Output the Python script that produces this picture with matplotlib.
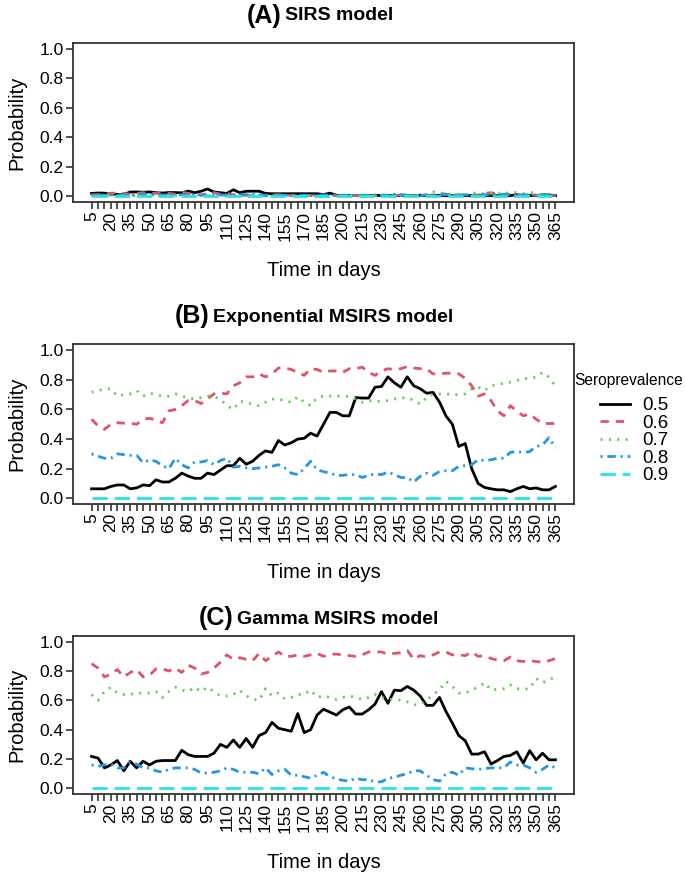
import matplotlib
matplotlib.use("Agg")
import matplotlib.pyplot as plt

plt.rcParams['font.family'] = ['Liberation Sans', 'DejaVu Sans']
plt.rcParams['lines.scale_dashes'] = False

# days 5..365, step 5
days = list(range(5, 366, 5))
tick_labels = [str(d) if (d - 5) % 15 == 0 else '' for d in days]
sero_labels = ['0.5', '0.6', '0.7', '0.8', '0.9']

# (A) SIRS model
a_05 = [0.02, 0.023, 0.022, 0.015, 0.014, 0.012, 0.03, 0.03, 0.028, 0.03,
        0.025, 0.023, 0.026, 0.026, 0.024, 0.036, 0.025, 0.035, 0.05, 0.03,
        0.025, 0.02, 0.045, 0.025, 0.035, 0.035, 0.035, 0.02, 0.018, 0.018,
        0.018, 0.018, 0.018, 0.018, 0.018, 0.018, 0.012, 0.022, 0.008, 0.006,
        0.006, 0.005, 0.005, 0.005, 0.008, 0.005, 0.005, 0.005, 0.005, 0.005,
        0.005, 0.008, 0.005, 0.005, 0.006, 0.005, 0.005, 0.005, 0.005, 0.005,
        0.005, 0.005, 0.005, 0.005, 0.005, 0.005, 0.012, 0.005, 0.005, 0.005,
        0.01, 0.01, 0.005]
a_06 = [0.01, 0.012, 0.015, 0.02, 0.025, 0.02, 0.015, 0.02, 0.025, 0.02,
        0.02, 0.025, 0.02, 0.015, 0.028, 0.02, 0.015, 0.01, 0.02, 0.025,
        0.015, 0.02, 0.01, 0.01, 0.008, 0.008, 0.008, 0.006, 0.008, 0.012,
        0.006, 0.006, 0.005, 0.005, 0.005, 0.005, 0.005, 0.005, 0.005, 0.005,
        0.005, 0.005, 0.005, 0.005, 0.005, 0.005, 0.005, 0.005, 0.01, 0.005,
        0.005, 0.005, 0.005, 0.01, 0.02, 0.015, 0.01, 0.01, 0.01, 0.005,
        0.01, 0.02, 0.025, 0.015, 0.01, 0.015, 0.01, 0.008, 0.01, 0.008,
        0.005, 0.005, 0.005]
a_07 = [0.005, 0.005, 0.005, 0.005, 0.005, 0.005, 0.005, 0.005, 0.005, 0.005,
        0.005, 0.005, 0.005, 0.005, 0.008, 0.005, 0.005, 0.005, 0.005, 0.005,
        0.005, 0.005, 0.005, 0.005, 0.005, 0.005, 0.005, 0.005, 0.005, 0.005,
        0.005, 0.005, 0.005, 0.005, 0.005, 0.005, 0.005, 0.005, 0.005, 0.005,
        0.005, 0.005, 0.005, 0.005, 0.005, 0.005, 0.005, 0.005, 0.005, 0.005,
        0.005, 0.008, 0.015, 0.03, 0.02, 0.025, 0.01, 0.015, 0.01, 0.02,
        0.025, 0.015, 0.02, 0.025, 0.015, 0.03, 0.025, 0.02, 0.03, 0.015,
        0.01, 0.015, 0.01]
a_08 = [0.01, 0.01, 0.008, 0.01, 0.012, 0.01, 0.01, 0.008, 0.015, 0.01,
        0.01, 0.01, 0.01, 0.012, 0.01, 0.015, 0.01, 0.01, 0.008, 0.01,
        0.01, 0.01, 0.01, 0.01, 0.012, 0.015, 0.01, 0.008, 0.008, 0.008,
        0.008, 0.008, 0.008, 0.008, 0.008, 0.008, 0.01, 0.008, 0.008, 0.008,
        0.008, 0.008, 0.008, 0.008, 0.008, 0.008, 0.008, 0.015, 0.012, 0.008,
        0.008, 0.008, 0.008, 0.008, 0.01, 0.012, 0.01, 0.008, 0.01, 0.01,
        0.01, 0.012, 0.01, 0.01, 0.015, 0.01, 0.01, 0.01, 0.01, 0.008,
        0.008, 0.008, 0.008]
a_09 = [0.003] * 73

# (B) Exponential MSIRS model
b_05 = [0.064, 0.064, 0.064, 0.08, 0.09, 0.09, 0.064, 0.07, 0.09, 0.085,
        0.125, 0.11, 0.11, 0.135, 0.17, 0.15, 0.135, 0.135, 0.17, 0.16,
        0.19, 0.22, 0.22, 0.27, 0.23, 0.25, 0.29, 0.32, 0.31, 0.39,
        0.36, 0.375, 0.40, 0.405, 0.44, 0.42, 0.50, 0.58, 0.58, 0.557,
        0.557, 0.68, 0.677, 0.677, 0.75, 0.755, 0.82, 0.78, 0.75, 0.82,
        0.76, 0.74, 0.71, 0.715, 0.65, 0.557, 0.50, 0.35, 0.37, 0.20,
        0.10, 0.073, 0.064, 0.057, 0.057, 0.045, 0.064, 0.08, 0.064, 0.07,
        0.057, 0.057, 0.08]
b_06 = [0.534, 0.49, 0.466, 0.50, 0.51, 0.507, 0.507, 0.50, 0.534, 0.54,
        0.527, 0.51, 0.59, 0.60, 0.625, 0.66, 0.66, 0.64, 0.67, 0.705,
        0.71, 0.705, 0.76, 0.78, 0.82, 0.82, 0.84, 0.82, 0.84, 0.88,
        0.88, 0.87, 0.85, 0.83, 0.875, 0.87, 0.85, 0.86, 0.86, 0.85,
        0.875, 0.875, 0.886, 0.85, 0.83, 0.86, 0.875, 0.87, 0.875, 0.89,
        0.88, 0.875, 0.875, 0.84, 0.84, 0.845, 0.845, 0.84, 0.81, 0.76,
        0.69, 0.705, 0.66, 0.59, 0.557, 0.625, 0.59, 0.557, 0.57, 0.534,
        0.505, 0.505, 0.505]
b_07 = [0.716, 0.727, 0.739, 0.739, 0.69, 0.70, 0.705, 0.727, 0.69, 0.71,
        0.70, 0.69, 0.69, 0.705, 0.69, 0.68, 0.67, 0.68, 0.69, 0.686,
        0.67, 0.625, 0.60, 0.655, 0.648, 0.636, 0.625, 0.648, 0.67, 0.67,
        0.66, 0.648, 0.686, 0.648, 0.625, 0.68, 0.69, 0.69, 0.69, 0.69,
        0.686, 0.67, 0.648, 0.66, 0.655, 0.655, 0.66, 0.67, 0.68, 0.677,
        0.664, 0.636, 0.68, 0.705, 0.705, 0.705, 0.70, 0.70, 0.705, 0.74,
        0.75, 0.727, 0.76, 0.768, 0.777, 0.784, 0.795, 0.807, 0.81, 0.818,
        0.85, 0.818, 0.755]
b_08 = [0.30, 0.284, 0.27, 0.27, 0.30, 0.295, 0.29, 0.29, 0.24, 0.26,
        0.25, 0.22, 0.20, 0.27, 0.227, 0.205, 0.245, 0.245, 0.255, 0.227,
        0.255, 0.27, 0.21, 0.216, 0.205, 0.20, 0.205, 0.21, 0.216, 0.227,
        0.205, 0.17, 0.16, 0.20, 0.25, 0.193, 0.18, 0.17, 0.155, 0.155,
        0.16, 0.16, 0.14, 0.155, 0.164, 0.16, 0.177, 0.16, 0.14, 0.14,
        0.11, 0.148, 0.17, 0.155, 0.18, 0.186, 0.186, 0.216, 0.22, 0.227,
        0.26, 0.255, 0.26, 0.27, 0.27, 0.31, 0.315, 0.31, 0.315, 0.35,
        0.36, 0.41, 0.34]
b_09 = [0.005] * 73

# (C) Gamma MSIRS model
c_05 = [0.218, 0.207, 0.14, 0.16, 0.19, 0.12, 0.185, 0.14, 0.185, 0.16,
        0.185, 0.19, 0.19, 0.19, 0.26, 0.23, 0.218, 0.218, 0.218, 0.24,
        0.30, 0.28, 0.33, 0.28, 0.34, 0.28, 0.36, 0.38, 0.45, 0.41,
        0.40, 0.39, 0.51, 0.38, 0.40, 0.50, 0.54, 0.52, 0.50, 0.536,
        0.555, 0.507, 0.507, 0.536, 0.575, 0.66, 0.58, 0.67, 0.666, 0.695,
        0.67, 0.63, 0.566, 0.566, 0.62, 0.525, 0.445, 0.36, 0.325, 0.234,
        0.234, 0.25, 0.166, 0.19, 0.218, 0.225, 0.25, 0.173, 0.257, 0.195,
        0.24, 0.195, 0.195]
c_06 = [0.85, 0.82, 0.76, 0.78, 0.81, 0.76, 0.79, 0.81, 0.76, 0.77,
        0.815, 0.815, 0.80, 0.82, 0.79, 0.84, 0.82, 0.78, 0.79, 0.82,
        0.86, 0.91, 0.88, 0.89, 0.88, 0.87, 0.92, 0.87, 0.90, 0.93,
        0.90, 0.90, 0.91, 0.90, 0.91, 0.92, 0.90, 0.915, 0.915, 0.91,
        0.905, 0.90, 0.91, 0.93, 0.93, 0.93, 0.915, 0.92, 0.925, 0.94,
        0.88, 0.905, 0.895, 0.91, 0.93, 0.93, 0.91, 0.91, 0.905, 0.93,
        0.90, 0.905, 0.885, 0.875, 0.87, 0.895, 0.87, 0.865, 0.87, 0.865,
        0.86, 0.87, 0.885]
c_07 = [0.64, 0.60, 0.66, 0.69, 0.65, 0.64, 0.64, 0.65, 0.65, 0.65,
        0.66, 0.62, 0.66, 0.69, 0.67, 0.66, 0.69, 0.66, 0.69, 0.66,
        0.63, 0.63, 0.64, 0.67, 0.63, 0.61, 0.60, 0.68, 0.63, 0.65,
        0.61, 0.62, 0.64, 0.64, 0.67, 0.62, 0.63, 0.62, 0.605, 0.62,
        0.63, 0.62, 0.605, 0.62, 0.64, 0.62, 0.605, 0.61, 0.60, 0.59,
        0.57, 0.57, 0.60, 0.64, 0.67, 0.73, 0.695, 0.65, 0.65, 0.67,
        0.69, 0.72, 0.67, 0.675, 0.68, 0.705, 0.68, 0.675, 0.68, 0.75,
        0.72, 0.74, 0.76]
c_08 = [0.16, 0.15, 0.16, 0.165, 0.14, 0.14, 0.18, 0.165, 0.14, 0.14,
        0.12, 0.11, 0.13, 0.14, 0.14, 0.14, 0.13, 0.105, 0.105, 0.11,
        0.12, 0.14, 0.13, 0.11, 0.11, 0.11, 0.10, 0.14, 0.095, 0.12,
        0.13, 0.09, 0.09, 0.08, 0.07, 0.09, 0.11, 0.08, 0.065, 0.055,
        0.05, 0.07, 0.06, 0.06, 0.045, 0.045, 0.07, 0.075, 0.09, 0.10,
        0.12, 0.12, 0.09, 0.06, 0.05, 0.10, 0.11, 0.09, 0.14, 0.134,
        0.13, 0.135, 0.14, 0.14, 0.14, 0.18, 0.16, 0.16, 0.14, 0.11,
        0.13, 0.16, 0.14]
c_09 = [0.005] * 73

# R default palette and line types 1..5
colors = ['#000000', '#DF536B', '#61D04F', '#2297E6', '#28E2E5']
dashes = [None, (6, 5), (1.5, 4.5), (1.5, 3.5, 6, 3.5), (11, 5)]

panels = [
    ('(A)', 'SIRS model', [a_05, a_06, a_07, a_08, a_09]),
    ('(B)', 'Exponential MSIRS model', [b_05, b_06, b_07, b_08, b_09]),
    ('(C)', 'Gamma MSIRS model', [c_05, c_06, c_07, c_08, c_09]),
]

W, H = 685, 873
fig = plt.figure(figsize=(W / 100, H / 100), dpi=100)

# axes boxes in pixels: (top, bottom)
boxes = [(42.7, 202.3), (344.3, 504.2), (635.8, 794.3)]
ax_left, ax_right = 73, 574
# title positions: split x, tag baseline, name baseline
title_pos = [(282, 23, 20.5), (210, 322.5, 321.5), (234, 624.5, 624)]

axes = []
for (tag, name, series), (top, bot), (tx, tby, nby) in zip(panels, boxes, title_pos):
    ax = fig.add_axes([ax_left / W, 1 - bot / H, (ax_right - ax_left) / W, (bot - top) / H])
    for vals, col, ds, lab in zip(series, colors, dashes, sero_labels):
        line, = ax.plot(days, vals, color=col, lw=2.0, label=lab)
        if ds is not None:
            line.set_dashes(ds)
    ax.set_xlim(5 - 14.4, 365 + 14.4)
    ax.set_ylim(-0.04, 1.04)
    ax.set_yticks([0.0, 0.2, 0.4, 0.6, 0.8, 1.0])
    ax.set_yticklabels(['0.0', '0.2', '0.4', '0.6', '0.8', '1.0'])
    ax.set_xticks(days)
    ax.set_xticklabels(tick_labels, rotation=90)
    ax.tick_params(axis='both', direction='out', length=5, width=1.1,
                   labelsize=12.5, pad=1.5, color='#222222')
    for sp in ax.spines.values():
        sp.set_linewidth(1.3)
        sp.set_color('#333333')
    ax.set_ylabel('Probability', fontsize=14.5)
    ax.yaxis.set_label_coords(-0.094, 0.5)
    ax.set_xlabel('Time in days', fontsize=14.5)
    ax.xaxis.set_label_coords(0.5, -0.37)
    fig.text(tx / W, 1 - tby / H, tag, fontsize=18, fontweight='bold',
             ha='right', va='baseline')
    fig.text((tx + 3) / W, 1 - nby / H, name, fontsize=14, fontweight='bold',
             ha='left', va='baseline')
    axes.append(ax)

fig.text(574 / W, 1 - 380 / H, 'Seroprevalence', fontsize=11.2,
         ha='left', va='center')
leg = axes[1].legend(loc='upper left', bbox_to_anchor=(600 / W, 1 - 397 / H),
                     bbox_transform=fig.transFigure, frameon=False,
                     fontsize=13.5, handlelength=1.6, handletextpad=0.65,
                     labelspacing=0.02, borderpad=0, borderaxespad=0)

fig.savefig('out.png', dpi=100)
